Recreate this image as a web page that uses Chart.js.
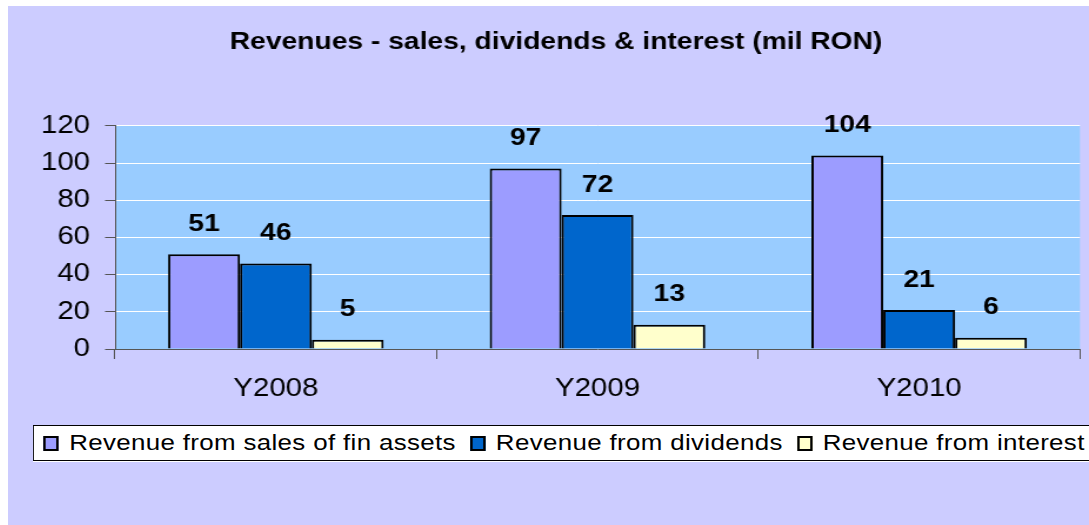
<!DOCTYPE html>
<html>
<head>
<meta charset="utf-8">
<script src="https://cdn.jsdelivr.net/npm/chart.js@4.4.0/dist/chart.umd.min.js"></script>
<style>
  html, body { margin: 0; padding: 0; background: #fff; overflow: hidden; width: 1089px; height: 525px; }
  #wrap { position: absolute; left: 8px; top: 6px; width: 1081px; height: 519px; background: #ccccff; overflow: hidden; }
  /* the original picture is stretched sideways, so draw narrow and scale up */
  #inner { position: absolute; left: 0; top: 0; width: 919px; height: 519px; transform: scaleX(1.1763); transform-origin: 0 0; }
  #legend {
    position: absolute; left: 21px; top: 419px; width: 1000px; height: 36px;
    background: #fff; border: 1px solid #000; box-sizing: border-box;
    font-family: "Liberation Sans", Arial, sans-serif; font-size: 22px; color: #000;
    white-space: nowrap; line-height: 34px; padding-left: 8px; letter-spacing: 0.3px;
  }
  #legend .item { margin-right: 12px; }
  #legend .box { display: inline-block; width: 9px; height: 11px; border: 2px solid #000; margin-right: 9px; vertical-align: -1px; }
</style>
</head>
<body>
<div id="wrap">
  <div id="inner">
    <canvas id="chart" width="919" height="519"></canvas>
    <div id="legend"></div>
  </div>
</div>
<script>
const categories = ['Y2008', 'Y2009', 'Y2010'];
const seriesNames = ['Revenue from sales of fin assets', 'Revenue from dividends', 'Revenue from interest'];
const salesValues = [51, 97, 104];
const dividendValues = [46, 72, 21];
const interestValues = [5, 13, 6];
const seriesColors = ['#9c9cff', '#0066cc', '#ffffcc'];
const yTicks = [0, 20, 40, 60, 80, 100, 120];

const FONT = '"Liberation Sans", Arial, sans-serif';

const plotBackground = {
    id: 'plotBackground',
    beforeDraw(chart) {
        const { ctx, chartArea } = chart;
        ctx.save();
        ctx.fillStyle = '#99ccff';
        ctx.fillRect(chartArea.left, chartArea.top, chartArea.right - chartArea.left, chartArea.bottom - chartArea.top);
        ctx.restore();
    }
};

const valueLabels = {
    id: 'valueLabels',
    afterDatasetsDraw(chart) {
        const ctx = chart.ctx;
        ctx.save();
        ctx.font = 'bold 24px ' + FONT;
        ctx.fillStyle = '#000';
        ctx.textAlign = 'center';
        ctx.textBaseline = 'middle';
        chart.data.datasets.forEach((ds, i) => {
            chart.getDatasetMeta(i).data.forEach((bar, j) => {
                ctx.fillText(ds.data[j], bar.x, bar.y - 30);
            });
        });
        ctx.restore();
    }
};

const datasets = [salesValues, dividendValues, interestValues].map((vals, i) => ({
    label: seriesNames[i],
    data: vals,
    backgroundColor: seriesColors[i],
    borderColor: '#000',
    borderWidth: 2,
    borderSkipped: 'bottom',
    categoryPercentage: 0.67,
    barPercentage: 1.0
}));

const chart = new Chart(document.getElementById('chart'), {
    type: 'bar',
    data: { labels: categories, datasets: datasets },
    options: {
        responsive: false,
        animation: false,
        layout: { padding: { left: 20.5, right: 7.7, top: 0, bottom: 116 } },
        plugins: {
            legend: { display: false },
            tooltip: { enabled: false },
            title: {
                display: true,
                text: 'Revenues - sales, dividends & interest (mil RON)',
                color: '#000',
                font: { family: FONT, size: 24, weight: 'bold' },
                padding: { top: 22, bottom: 69 }
            }
        },
        scales: {
            x: {
                afterFit(scale) { scale.height = 60; },
                grid: { offset: true, drawOnChartArea: false, tickLength: 10, tickColor: '#555', tickWidth: 1 },
                border: { color: '#555', width: 1 },
                ticks: { color: '#000', padding: 15, font: { family: FONT, size: 25 } }
            },
            y: {
                min: 0,
                max: 120,
                afterFit(scale) { scale.width = 70.5; },
                afterBuildTicks(scale) { scale.ticks = yTicks.map(v => ({ value: v })); },
                grid: { color: '#fff', lineWidth: 1, tickLength: 8.5, tickColor: '#555' },
                border: { color: '#555', width: 1 },
                ticks: { color: '#000', padding: 12.8, font: { family: FONT, size: 25 } }
            }
        }
    },
    plugins: [plotBackground, valueLabels]
});

const legend = document.getElementById('legend');
seriesNames.forEach((name, i) => {
    const item = document.createElement('span');
    item.className = 'item';
    const box = document.createElement('span');
    box.className = 'box';
    box.style.background = seriesColors[i];
    item.appendChild(box);
    item.appendChild(document.createTextNode(name));
    legend.appendChild(item);
});
</script>
</body>
</html>
